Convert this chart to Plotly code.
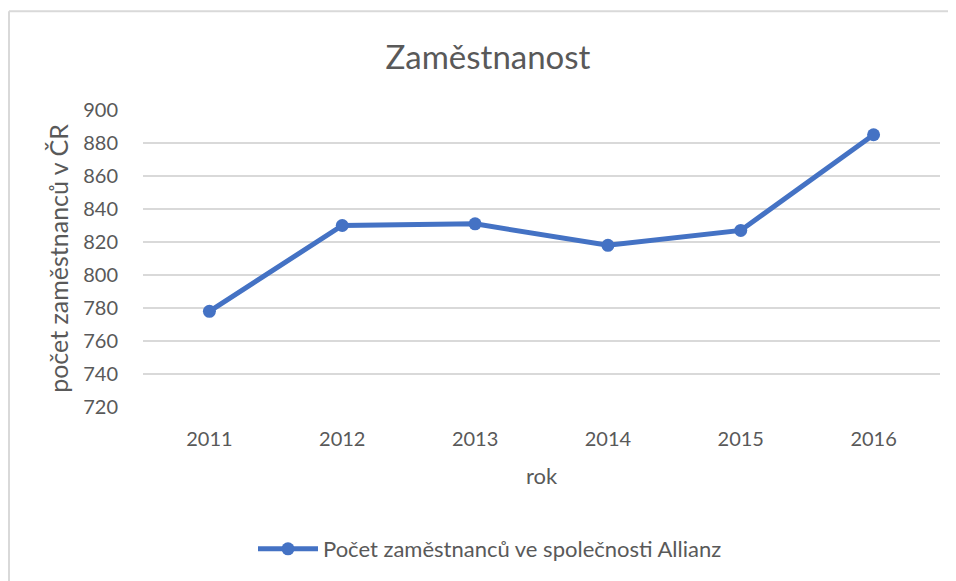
import plotly.graph_objects as go

years = ["2011", "2012", "2013", "2014", "2015", "2016"]
employees = [778, 830, 831, 818, 827, 885]
series_name = "Počet zaměstnanců ve společnosti Allianz"
y_ticks = [720, 740, 760, 780, 800, 820, 840, 860, 880, 900]

FONT = "Lato"
GRAY = "#595959"
BLUE = "#4472C4"

# page has an 8px body margin; figure origin sits at (8, 8)
OFF = 8
W, H = 956 - OFF, 581 - OFF
L, R, T, B = 143 - OFF, 16, 110 - OFF, H - (408 - OFF)
pw, ph = W - L - R, H - T - B

fig = go.Figure()
fig.add_trace(go.Scatter(
    x=years, y=employees, mode="lines+markers", name=series_name,
    line=dict(color=BLUE, width=5),
    marker=dict(color=BLUE, size=13),
))

def px_x(x):
    return (x - OFF - L) / pw

def px_y(y):
    return (H - B - (y - OFF)) / ph

# outer chart border (left and top visible)
fig.add_shape(type="line", xref="paper", yref="paper",
              x0=px_x(9), x1=px_x(9), y0=px_y(11), y1=px_y(600),
              line=dict(color="#d9d9d9", width=2), layer="below")
fig.add_shape(type="line", xref="paper", yref="paper",
              x0=px_x(9), x1=px_x(960), y0=px_y(11), y1=px_y(11),
              line=dict(color="#d9d9d9", width=2), layer="below")

fig.update_layout(
    width=W, height=H,
    margin=dict(l=L, r=R, t=T, b=B),
    paper_bgcolor="white", plot_bgcolor="white",
    font=dict(family=FONT, color=GRAY, size=20),
    title=dict(text="Zaměstnanost", x=(488 - OFF) / W, xref="container", xanchor="center",
               y=1 - (57 - OFF) / H, yref="container", yanchor="middle",
               font=dict(size=33, color=GRAY, family=FONT)),
    showlegend=True,
    legend=dict(orientation="h", x=px_x(490), xanchor="center",
                y=px_y(549), yanchor="middle",
                font=dict(size=22, color=GRAY), itemwidth=60),
    xaxis=dict(
        type="category", range=[-0.5, len(years) - 0.5],
        showgrid=False, zeroline=False, showline=False,
        ticks="", ticklabelstandoff=18,
        tickfont=dict(size=20, color=GRAY),
        title=dict(text="rok", font=dict(size=22, color=GRAY), standoff=19),
    ),
    yaxis=dict(
        range=[720, 900], tickvals=y_ticks, showgrid=True,
        gridcolor="#d9d9d9", gridwidth=2, zeroline=False, showline=False,
        ticks="", ticklabelstandoff=24,
        tickfont=dict(size=20, color=GRAY),
        title=dict(text="počet zaměstnanců v ČR", font=dict(size=25, color=GRAY), standoff=7),
    ),
)

fig.write_html("out.html")
